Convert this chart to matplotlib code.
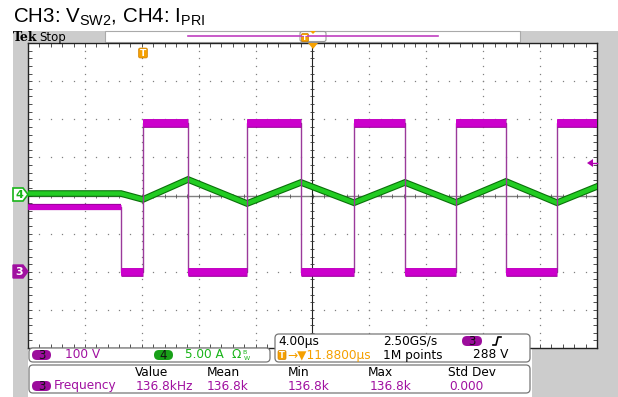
import numpy as np
import matplotlib
matplotlib.use("Agg")
import matplotlib.pyplot as plt
import matplotlib.patheffects as pe
from matplotlib.patches import Rectangle, FancyBboxPatch, Polygon

W, H = 618, 397

# CH3 (V_SW2): switching edges in us, plateau levels in volts
ch3_edges = [-13.46, -11.92, -8.75, -4.60, -0.81, 2.92, 6.50, 10.09, 13.60, 17.19]
ch3_levels = [170, 0, 390, 0, 390, 0, 390, 0, 390, 0, 390]
ch3_vdiv = 100
ch3_offset = -2  # divisions

# CH4 (I_PRI): corner points of the triangle current, us / A
ch4_t = [-20, -13.46, -11.92, -8.75, -4.60, -0.81, 2.92, 6.50, 10.09, 13.60, 17.19, 20]
ch4_i = [0.26, 0.26, -0.52, 2.1, -1.05, 1.71, -0.95, 1.71, -0.92, 1.84, -0.95, 1.18]
ch4_adiv = 5

# readouts
meas_headers = ["Value", "Mean", "Min", "Max", "Std Dev"]
meas_values = ["136.8kHz", "136.8k", "136.8k", "136.8k", "0.000"]
meas_name = "Frequency"

PURPLE = "#a010a0"
MAGENTA = "#cc00cc"
GREEN = "#18b418"
ORANGE = "#f5a000"
GRAY = "#cccccc"

fig = plt.figure(figsize=(W / 100, H / 100), dpi=100)
fig.patch.set_facecolor("white")

# background layer in pixel coords
bg = fig.add_axes([0, 0, 1, 1], zorder=0)
bg.set_xlim(0, W)
bg.set_ylim(H, 0)
bg.axis("off")
bg.add_patch(Rectangle((13, 31), W - 13, H - 31, color=GRAY, lw=0))
bg.add_patch(Rectangle((28, 348), 504, 49, color="white", lw=0))
bg.add_patch(Rectangle((105, 31), 415, 11, facecolor="white", edgecolor="#aaaaaa", lw=0.8))

# scope screen
ax = fig.add_axes([28 / W, (H - 348) / H, 569 / W, 305 / H], zorder=1)
ax.set_facecolor("white")
ax.set_xlim(-20, 20)
ax.set_ylim(-4, 4)
ax.set_xticks(np.arange(-20, 20.01, 0.8))
ax.set_yticks(np.arange(-4, 4.01, 0.2))
ax.tick_params(direction="in", length=3, width=0.6, color="#333333",
               top=True, right=True, labelbottom=False, labelleft=False)
for s in ax.spines.values():
    s.set_color("#222222")
    s.set_linewidth(1)

ys = np.arange(-4, 4.01, 0.2)
xs = np.arange(-20, 20.01, 0.8)
for gx in range(-16, 17, 4):
    if gx != 0:
        ax.plot([gx] * len(ys), ys, ls="none", marker="s", ms=0.9, mew=0, color="#808080")
for gy in range(-3, 4):
    if gy != 0:
        ax.plot(xs, [gy] * len(xs), ls="none", marker="s", ms=0.9, mew=0, color="#808080")
ax.axhline(0, color="#808080", lw=1, zorder=1)
ax.axvline(0, color="#222222", lw=0.8, zorder=1)
ax.plot(xs, np.zeros_like(xs), ls="none", marker="|", ms=3.5, mew=0.6, color="#555555")
ax.plot(np.zeros_like(ys), ys, ls="none", marker="_", ms=3.5, mew=0.6, color="#333333")

# CH4 current
ch4_div = np.array(ch4_i) / ch4_adiv
ax.plot(ch4_t, ch4_div, color="#22cc22", lw=3.2, zorder=3, solid_joinstyle="miter",
        path_effects=[pe.Stroke(linewidth=4.8, foreground="#0a700a"), pe.Normal()])

# CH3 switch node
bounds = [-20] + ch3_edges + [20]
step_x, step_y = [], []
for i, lv in enumerate(ch3_levels):
    step_x += [bounds[i], bounds[i + 1]]
    step_y += [lv / ch3_vdiv + ch3_offset] * 2
ax.plot(step_x, step_y, color="#9a3a9a", lw=1.0, zorder=4)
for i, lv in enumerate(ch3_levels):
    d = lv / ch3_vdiv + ch3_offset
    w = 3.6 if i == 0 else 5.4
    ax.plot([bounds[i], bounds[i + 1]], [d, d], color=MAGENTA, lw=w, zorder=5,
            solid_capstyle="butt",
            path_effects=[pe.Stroke(linewidth=w + 0.9, foreground="#a000a0"), pe.Normal()])

# overlay layer in pixel coords
ov = fig.add_axes([0, 0, 1, 1], zorder=2)
ov.set_xlim(0, W)
ov.set_ylim(H, 0)
ov.axis("off")
ov.patch.set_alpha(0)

plt.rcParams["mathtext.fontset"] = "custom"
plt.rcParams["mathtext.rm"] = "Liberation Sans"
ov.text(13, 22, r"CH3: V$_{\mathrm{SW2}}$, CH4: I$_{\mathrm{PRI}}$", fontsize=14.8,
        family="Liberation Sans", va="baseline", ha="left")
ov.text(13, 41, "Tek", fontsize=9, family="DejaVu Serif", weight="bold", va="baseline")
ov.text(39, 41, "Stop", fontsize=8.5, family="DejaVu Sans", va="baseline")

# top bar record view
ov.plot([188, 438], [36, 36], color="#c040c0", lw=1.2)
ov.add_patch(FancyBboxPatch((300, 31.5), 26, 10, boxstyle="round,pad=0,rounding_size=2",
                            facecolor="none", edgecolor="#999999", lw=0.8))


def t_icon(x, y, s=1.0):
    ov.add_patch(FancyBboxPatch((x - 4 * s, y - 4.5 * s), 8 * s, 9 * s,
                                boxstyle="round,pad=0,rounding_size=1.5",
                                facecolor=ORANGE, edgecolor="#d08000", lw=0.5))
    ov.text(x, y + 0.5, "T", color="white", fontsize=6 * s, weight="bold",
            ha="center", va="center", family="DejaVu Sans")


t_icon(305, 37.5, 0.9)
ov.add_patch(Polygon([[310, 31], [316, 31], [313, 34]], color=ORANGE, lw=0))
t_icon(143, 53, 1.1)
ov.add_patch(Polygon([[308, 43], [318, 43], [313, 49]], color=ORANGE, lw=0))

# channel markers on the left
ov.add_patch(Polygon([[13, 188], [23, 188], [28, 194.5], [23, 201], [13, 201]],
                     facecolor="white", edgecolor=GREEN, lw=1.2))
ov.text(19, 195, "4", color=GREEN, fontsize=8, weight="bold", ha="center", va="center")
ov.add_patch(Polygon([[13, 265], [23, 265], [28, 271.5], [23, 278], [13, 278]],
                     facecolor="#a010a0", edgecolor="#a010a0", lw=1))
ov.text(19, 272, "3", color="white", fontsize=8, weight="bold", ha="center", va="center")

# trigger level arrow on the right
ov.add_patch(Polygon([[587, 163], [593, 159], [593, 167]], color="#b000b0", lw=0))
ov.plot([592, 597], [163, 163], color="#b000b0", lw=1)


def pill(x, y, label, color, w=19):
    ov.add_patch(FancyBboxPatch((x, y - 5), w, 10, boxstyle="round,pad=0,rounding_size=5",
                                facecolor=color, edgecolor=color, lw=0))
    ov.text(x + w / 2, y + 0.5, label, color="#111111", fontsize=8.5,
            ha="center", va="center", family="DejaVu Sans")


def panel(x0, y0, x1, y1):
    ov.add_patch(FancyBboxPatch((x0, y0), x1 - x0, y1 - y0,
                                boxstyle="round,pad=0,rounding_size=4",
                                facecolor="white", edgecolor="#777777", lw=0.9))


tf = dict(fontsize=8.7, family="DejaVu Sans", va="center", ha="left")

# channel panel
panel(29, 348, 270, 362)
pill(32, 355, "3", "#9c0c9c")
ov.text(65, 355, "100 V", color=PURPLE, **tf)
pill(154, 355, "4", "#18a018")
ov.text(185, 355, "5.00 A", color=GREEN, **tf)
ov.text(232, 355, "\u03a9", color=GREEN, **tf)
ov.text(242, 353, "B", color=GREEN, fontsize=4.5, va="center", ha="left")
ov.text(244, 358, "W", color=GREEN, fontsize=4.5, va="center", ha="left")

# timebase panel
panel(275, 334, 530, 362)
ov.text(278, 341, "4.00\u00b5s", color="black", **tf)
ov.text(383, 341, "2.50GS/s", color="black", **tf)
pill(462, 341, "3", "#9c0c9c", w=20)
ov.plot([493, 496, 498, 501], [345, 345, 337, 337], color="black", lw=1.2)
t_icon(282, 355)
ov.text(287, 355, "\u2192\u25bc11.8800\u00b5s", color=ORANGE, **tf)
ov.text(383, 355, "1M points", color="black", **tf)
ov.text(473, 355, "288 V", color="black", **tf)

# measurement panel
panel(29, 365, 530, 393)
head_x = [135, 207, 288, 368, 448]
for hx, h in zip(head_x, meas_headers):
    ov.text(hx, 372, h, color="black", **tf)
pill(32, 386, "3", "#9c0c9c")
ov.text(54, 386, meas_name, color=PURPLE, **tf)
for hx, v in zip([136, 207, 288, 370, 449], meas_values):
    ov.text(hx, 386, v, color=PURPLE, **tf)

fig.savefig("out.png", dpi=100)
